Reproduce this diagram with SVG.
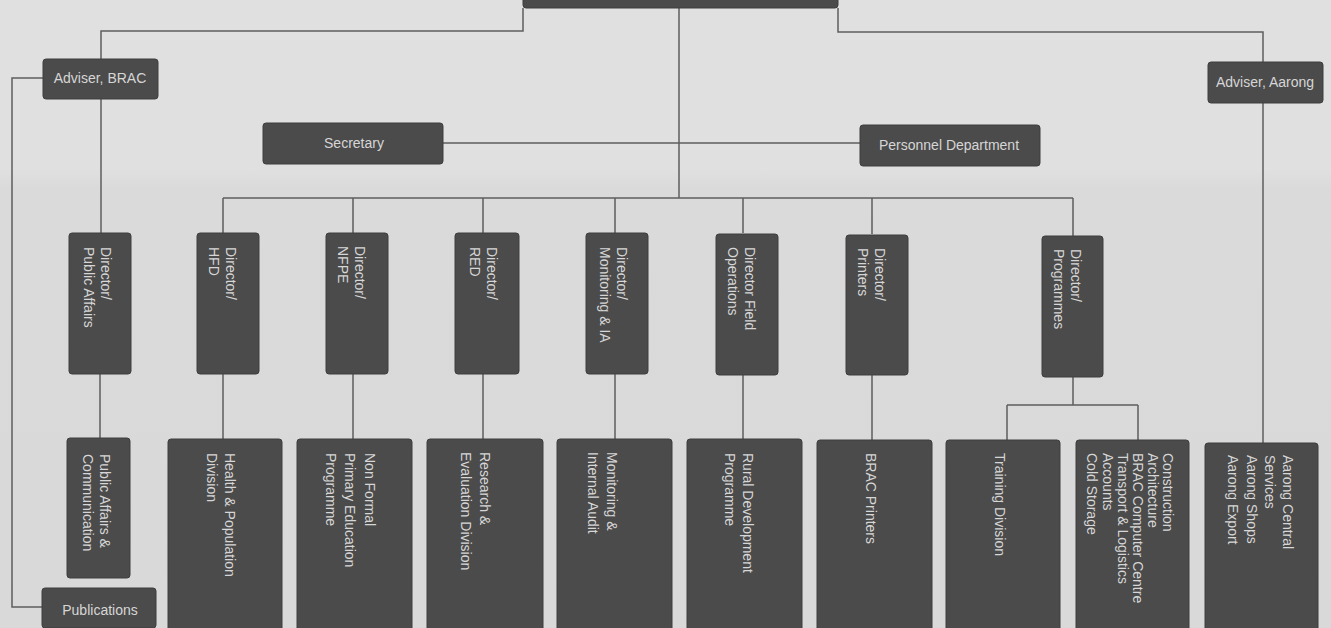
<svg xmlns="http://www.w3.org/2000/svg" width="1331" height="628" viewBox="0 0 1331 628">
<defs>
<linearGradient id="bg" x1="0" y1="0" x2="0" y2="1">
<stop offset="0" stop-color="#e0e0e0"/>
<stop offset="0.27" stop-color="#e0e0e0"/>
<stop offset="0.3" stop-color="#dadada"/>
<stop offset="1" stop-color="#d9d9d9"/>
</linearGradient>
</defs>
<style>
.box{fill:#4b4b4b;stroke:#3e3e3e;stroke-width:1}
.t{font-family:"Liberation Sans",Arial,sans-serif;font-size:14px;fill:#d6d6d6}
.h{text-anchor:middle}
.c{fill:none;stroke:#5e5e5e;stroke-width:1.5}
</style>
<rect x="0" y="0" width="1331" height="628" fill="url(#bg)"/>
<g id="connectors">
<path class="c" d="M523,8 V31 H101 V59"/>
<path class="c" d="M101,99 V233"/>
<path class="c" d="M43,78 H12 V607 H42"/>
<path class="c" d="M838,8 V32 H1263 V62"/>
<path class="c" d="M1263,103 V443"/>
<path class="c" d="M679,8 V198"/>
<path class="c" d="M443,143 H860"/>
<path class="c" d="M223,198 H1073"/>
<path class="c" d="M223,198 V233 M353,198 V233 M483,198 V233 M615,198 V233 M743,198 V233 M872,198 V234 M1073,198 V236"/>
<path class="c" d="M100,374 V438 M223,374 V439 M353,374 V439 M483,374 V439 M615,374 V439 M743,375 V439 M872,375 V440"/>
<path class="c" d="M1073,377 V405 M1007,405 H1138 M1007,405 V440 M1138,405 V440"/>
</g>
<g id="top"><rect class="box" x="523" y="-30" width="315" height="38" rx="3"/></g>
<g id="adviser-brac"><rect class="box" x="43" y="59" width="115" height="40" rx="3"/><text class="t h" x="100" y="83">Adviser, BRAC</text></g>
<g id="adviser-aarong"><rect class="box" x="1208" y="62" width="115" height="41" rx="3"/><text class="t h" x="1265" y="87">Adviser, Aarong</text></g>
<g id="secretary"><rect class="box" x="263" y="123" width="180" height="41" rx="3"/><text class="t h" x="354" y="148">Secretary</text></g>
<g id="personnel"><rect class="box" x="860" y="125" width="180" height="41" rx="3"/><text class="t h" x="949" y="150">Personnel Department</text></g>
<g id="dir-pa"><rect class="box" x="69" y="233" width="62" height="141" rx="3"/><text class="t" transform="translate(101,247) rotate(90)"><tspan x="0" y="0">Director/</tspan><tspan x="0" y="17">Public Affairs</tspan></text></g>
<g id="dir-hfd"><rect class="box" x="197" y="233" width="62" height="141" rx="3"/><text class="t" transform="translate(226,247) rotate(90)"><tspan x="0" y="0">Director/</tspan><tspan x="0" y="17">HFD</tspan></text></g>
<g id="dir-nfpe"><rect class="box" x="326" y="233" width="62" height="141" rx="3"/><text class="t" transform="translate(355,246) rotate(90)"><tspan x="0" y="0">Director/</tspan><tspan x="0" y="17">NFPE</tspan></text></g>
<g id="dir-red"><rect class="box" x="455" y="233" width="64" height="141" rx="3"/><text class="t" transform="translate(487,247) rotate(90)"><tspan x="0" y="0">Director/</tspan><tspan x="0" y="17">RED</tspan></text></g>
<g id="dir-mia"><rect class="box" x="586" y="233" width="62" height="141" rx="3"/><text class="t" transform="translate(617,247) rotate(90)"><tspan x="0" y="0">Director/</tspan><tspan x="0" y="17">Monitoring &amp; IA</tspan></text></g>
<g id="dir-fo"><rect class="box" x="716" y="234" width="62" height="141" rx="3"/><text class="t" transform="translate(745,247) rotate(90)"><tspan x="0" y="0">Director Field</tspan><tspan x="0" y="17">Operations</tspan></text></g>
<g id="dir-printers"><rect class="box" x="846" y="235" width="62" height="140" rx="3"/><text class="t" transform="translate(875,248) rotate(90)"><tspan x="0" y="0">Director/</tspan><tspan x="0" y="17">Printers</tspan></text></g>
<g id="dir-prog"><rect class="box" x="1042" y="236" width="61" height="141" rx="3"/><text class="t" transform="translate(1071,249) rotate(90)"><tspan x="0" y="0">Director/</tspan><tspan x="0" y="17">Programmes</tspan></text></g>
<g id="pac"><rect class="box" x="67" y="438" width="63" height="140" rx="3"/><text class="t" transform="translate(100,454) rotate(90)"><tspan x="0" y="0">Public Affairs &amp;</tspan><tspan x="0" y="17">Communication</tspan></text></g>
<g id="publications"><rect class="box" x="42" y="588" width="114" height="40" rx="3"/><text class="t h" x="100" y="615">Publications</text></g>
<g id="hpd"><rect class="box" x="168" y="439" width="114" height="200" rx="3"/><text class="t" transform="translate(225,453) rotate(90)"><tspan x="0" y="0">Health &amp; Population</tspan><tspan x="0" y="18">Division</tspan></text></g>
<g id="nfpe"><rect class="box" x="297" y="439" width="115" height="200" rx="3"/><text class="t" transform="translate(365,453) rotate(90)"><tspan x="0" y="0">Non Formal</tspan><tspan x="0" y="20">Primary Education</tspan><tspan x="0" y="39">Programme</tspan></text></g>
<g id="red"><rect class="box" x="427" y="439" width="116" height="200" rx="3"/><text class="t" transform="translate(480,452) rotate(90)"><tspan x="0" y="0">Research &amp;</tspan><tspan x="0" y="19">Evaluation Division</tspan></text></g>
<g id="mia"><rect class="box" x="557" y="439" width="115" height="200" rx="3"/><text class="t" transform="translate(607,452) rotate(90)"><tspan x="0" y="0">Monitoring &amp;</tspan><tspan x="0" y="19">Internal Audit</tspan></text></g>
<g id="rdp"><rect class="box" x="687" y="439" width="115" height="200" rx="3"/><text class="t" transform="translate(743,453) rotate(90)"><tspan x="0" y="0">Rural Development</tspan><tspan x="0" y="18">Programme</tspan></text></g>
<g id="printers"><rect class="box" x="817" y="440" width="115" height="200" rx="3"/><text class="t" transform="translate(866,453) rotate(90)">BRAC Printers</text></g>
<g id="training"><rect class="box" x="946" y="440" width="114" height="200" rx="3"/><text class="t" transform="translate(995,453) rotate(90)">Training Division</text></g>
<g id="services"><rect class="box" x="1076" y="440" width="113" height="200" rx="3"/><text class="t" transform="translate(1163,453) rotate(90)"><tspan x="0" y="0">Construction</tspan><tspan x="0" y="15">Architecture</tspan><tspan x="0" y="30">BRAC Computer Centre</tspan><tspan x="0" y="45">Transport &amp; Logistics</tspan><tspan x="0" y="60">Accounts</tspan><tspan x="0" y="76">Cold Storage</tspan></text></g>
<g id="aarong"><rect class="box" x="1205" y="443" width="113" height="200" rx="3"/><text class="t" transform="translate(1283,455) rotate(90)"><tspan x="0" y="0">Aarong Central</tspan><tspan x="0" y="18">Services</tspan><tspan x="0" y="36">Aarong Shops</tspan><tspan x="0" y="55">Aarong Export</tspan></text></g>
</svg>
